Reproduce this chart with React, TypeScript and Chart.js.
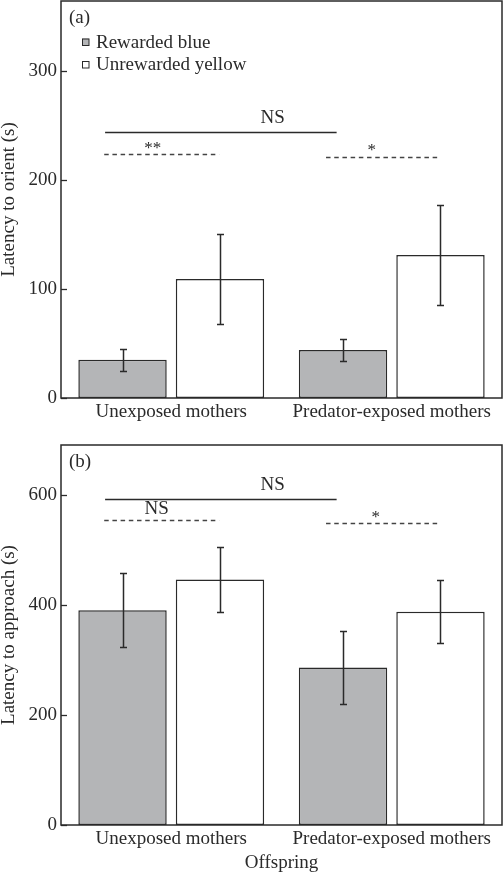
import React, { useEffect, useRef } from 'react';
import { Chart, registerables } from 'chart.js';

Chart.register(...registerables);

const categories = ['Unexposed mothers', 'Predator-exposed mothers'];
const seriesNames = ['Rewarded blue', 'Unrewarded yellow'];

const orientRewarded = [35, 44];
const orientRewardedErr = [10, 10.5];
const orientUnrewarded = [109, 131];
const orientUnrewardedErr = [41, 46];

const approachRewarded = [390, 286];
const approachRewardedErr = [67, 67];
const approachUnrewarded = [446, 387];
const approachUnrewardedErr = [59, 57];

const orientTicks = [0, 100, 200, 300];
const approachTicks = [0, 200, 400, 600];

// significance annotations (x in category-index units, y in data units)
const orientSigLines = [
  { from: -0.3, to: 0.75, at: 243.5, dashed: false },
  { from: -0.304, to: 0.217, at: 223.6, dashed: true },
  { from: 0.702, to: 1.222, at: 221.1, dashed: true },
];
const orientSigLabels = [
  { text: 'NS', at: 0.46, base: 251.7 },
  { text: '**', at: -0.084, base: 224.7 },
  { text: '*', at: 0.909, base: 222.8 },
];
const approachSigLines = [
  { from: -0.3, to: 0.75, at: 592, dashed: false },
  { from: -0.304, to: 0.217, at: 553, dashed: true },
  { from: 0.702, to: 1.222, at: 548, dashed: true },
];
const approachSigLabels = [
  { text: 'NS', at: 0.46, base: 609 },
  { text: 'NS', at: -0.066, base: 565 },
  { text: '*', at: 0.928, base: 550 },
];

const FONT = '"Liberation Serif", "Times New Roman", serif';
const INK = '#2a2a2a';
const GRAY = '#b4b5b7';

const overlayPlugin = {
  id: 'overlay',
  afterDatasetsDraw(chart: any, _args: any, opts: any) {
    const { ctx, chartArea: a, scales } = chart;
    const x = scales.x;
    const y = scales.y;
    ctx.save();
    // error bars
    ctx.strokeStyle = INK;
    ctx.lineWidth = 1.5;
    chart.data.datasets.forEach((ds: any, i: number) => {
      const meta = chart.getDatasetMeta(i);
      meta.data.forEach((bar: any, j: number) => {
        const v = ds.data[j];
        const e = opts.errors[i][j];
        const yt = Math.round(y.getPixelForValue(v + e)) + 0.5;
        const yb = Math.round(y.getPixelForValue(v - e)) + 0.5;
        const px = Math.round(bar.x) + 0.5;
        ctx.beginPath();
        ctx.moveTo(px, yt);
        ctx.lineTo(px, yb);
        ctx.moveTo(px - 3.5, yt);
        ctx.lineTo(px + 3.5, yt);
        ctx.moveTo(px - 3.5, yb);
        ctx.lineTo(px + 3.5, yb);
        ctx.stroke();
      });
    });
    // significance lines
    opts.sigLines.forEach((l: any) => {
      const yy = Math.round(y.getPixelForValue(l.at)) + 0.5;
      ctx.beginPath();
      ctx.lineWidth = 1.3;
      ctx.strokeStyle = l.dashed ? '#444' : INK;
      ctx.setLineDash(l.dashed ? [4.5, 3.7] : []);
      ctx.moveTo(x.getPixelForValue(l.from), yy);
      ctx.lineTo(x.getPixelForValue(l.to), yy);
      ctx.stroke();
    });
    ctx.setLineDash([]);
    ctx.fillStyle = INK;
    ctx.textAlign = 'center';
    ctx.textBaseline = 'alphabetic';
    opts.sigLabels.forEach((t: any) => {
      ctx.font = (t.text.indexOf('*') >= 0 ? '17px ' : '19px ') + FONT;
      ctx.fillText(t.text, x.getPixelForValue(t.at), y.getPixelForValue(t.base));
    });
    // y tick marks (inward)
    ctx.strokeStyle = INK;
    ctx.lineWidth = 1.3;
    y.ticks.forEach((t: any) => {
      const yy = Math.round(y.getPixelForValue(t.value)) + 0.5;
      ctx.beginPath();
      ctx.moveTo(a.left, yy);
      ctx.lineTo(a.left + 6, yy);
      ctx.stroke();
    });
    // frame
    ctx.lineWidth = 1.5;
    ctx.strokeRect(a.left, a.top, a.right - a.left, a.bottom - a.top);
    // panel label
    ctx.font = '19px ' + FONT;
    ctx.textAlign = 'left';
    ctx.textBaseline = 'middle';
    ctx.fillText(opts.panel, a.left + 8, a.top + 17.5);
    // legend
    if (opts.legend) {
      chart.data.datasets.forEach((ds: any, i: number) => {
        const cy = a.top + 41 + i * 22.5;
        ctx.fillStyle = ds.backgroundColor;
        ctx.fillRect(a.left + 21, cy - 3.5, 7, 7);
        ctx.strokeStyle = INK;
        ctx.lineWidth = 1;
        ctx.strokeRect(a.left + 21.5, cy - 3, 6.5, 6.5);
        ctx.fillStyle = INK;
        ctx.fillText(ds.label, a.left + 35, cy + 1);
      });
    }
    ctx.restore();
  },
};

function buildConfig(p: any): any {
  return {
    type: 'bar',
    data: {
      labels: categories,
      datasets: [
        {
          label: seriesNames[0],
          data: p.rewarded,
          backgroundColor: GRAY,
          borderColor: INK,
          borderWidth: 1.5,
          borderSkipped: false,
        },
        {
          label: seriesNames[1],
          data: p.unrewarded,
          backgroundColor: '#ffffff',
          borderColor: INK,
          borderWidth: 1.5,
          borderSkipped: false,
        },
      ],
    },
    options: {
      animation: false,
      responsive: false,
      devicePixelRatio: 1,
      layout: { padding: { top: p.padTop, right: 2, left: 0, bottom: 0 } },
      datasets: { bar: { categoryPercentage: 0.884, barPercentage: 0.907 } },
      scales: {
        x: {
          type: 'category',
          grid: { display: false, drawTicks: false },
          border: { display: false },
          ticks: { color: INK, font: { family: FONT, size: 19 }, padding: 3, maxRotation: 0, autoSkip: false },
          title: p.xTitle
            ? { display: true, text: p.xTitle, color: INK, font: { family: FONT, size: 19, lineHeight: 1 }, padding: 0 }
            : { display: false },
          afterFit: (s: any) => {
            s.height = p.xHeight;
            s.paddingLeft = 0;
            s.paddingRight = 0;
          },
        },
        y: {
          type: 'linear',
          min: 0,
          max: p.max,
          grid: { display: false, drawTicks: false },
          border: { display: false },
          ticks: { color: INK, font: { family: FONT, size: 19 }, padding: 4, stepSize: p.ticks[1] - p.ticks[0] },
          afterBuildTicks: (s: any) => { s.ticks = p.ticks.map((v: number) => ({ value: v })); },
          title: { display: true, text: p.yTitle, color: INK, font: { family: FONT, size: 19, lineHeight: 1 }, padding: 0 },
          afterFit: (s: any) => {
            s.width = 61;
            s.paddingTop = 0;
            s.paddingBottom = 0;
          },
        },
      },
      plugins: {
        legend: { display: false },
        tooltip: { enabled: false },
        overlay: {
          errors: p.errors,
          sigLines: p.sigLines,
          sigLabels: p.sigLabels,
          panel: p.panel,
          legend: p.legend,
        },
      },
    },
    plugins: [overlayPlugin],
  };
}

function Panel(props: { top: number; height: number; p: any }) {
  const ref = useRef<HTMLCanvasElement>(null);
  useEffect(() => {
    const chart = new Chart(ref.current as HTMLCanvasElement, buildConfig(props.p));
    return () => chart.destroy();
  }, []);
  return (
    <canvas
      ref={ref}
      width={504}
      height={props.height}
      style={{ position: 'absolute', left: 0, top: props.top, width: 504, height: props.height }}
    />
  );
}

const panelA = {
  rewarded: orientRewarded,
  unrewarded: orientUnrewarded,
  errors: [orientRewardedErr, orientUnrewardedErr],
  sigLines: orientSigLines,
  sigLabels: orientSigLabels,
  ticks: orientTicks,
  max: 364,
  padTop: 1,
  xHeight: 32,
  yTitle: 'Latency to orient (s)',
  xTitle: '',
  panel: '(a)',
  legend: true,
};

const panelB = {
  rewarded: approachRewarded,
  unrewarded: approachUnrewarded,
  errors: [approachRewardedErr, approachUnrewardedErr],
  sigLines: approachSigLines,
  sigLabels: approachSigLabels,
  ticks: approachTicks,
  max: 690,
  padTop: 15,
  xHeight: 48,
  yTitle: 'Latency to approach (s)',
  xTitle: 'Offspring',
  panel: '(b)',
  legend: false,
};

export default function App() {
  return (
    <div style={{ position: 'absolute', left: 0, top: 0, width: 504, height: 873, background: '#fff' }}>
      <Panel top={0} height={430} p={panelA} />
      <Panel top={430} height={443} p={panelB} />
    </div>
  );
}
